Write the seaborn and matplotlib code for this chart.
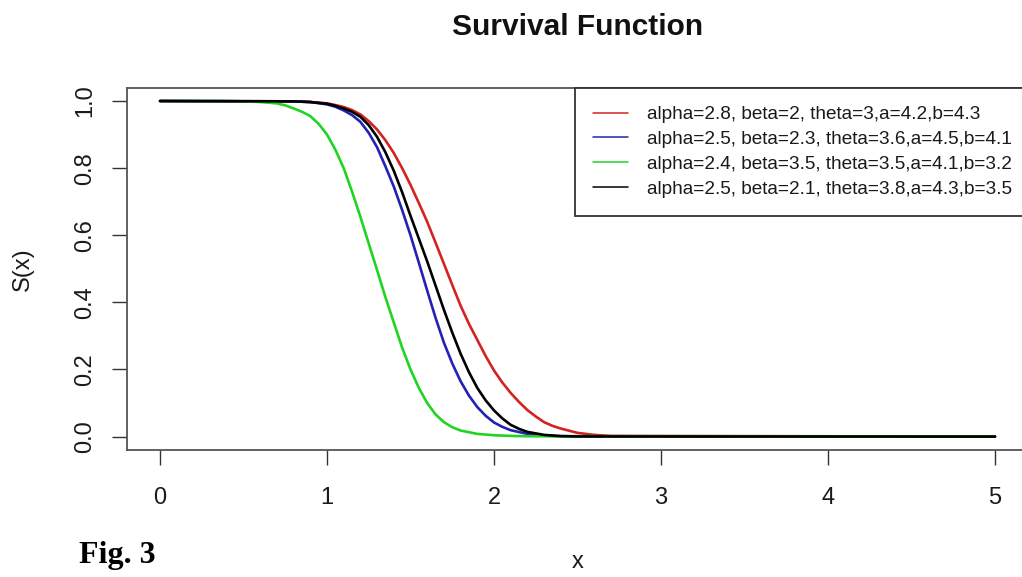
import matplotlib
matplotlib.use("Agg")
import matplotlib.pyplot as plt
from matplotlib.lines import Line2D
import seaborn as sns
import pandas as pd

# ---- data ----
series_labels = [
    "alpha=2.8, beta=2, theta=3,a=4.2,b=4.3",
    "alpha=2.5, beta=2.3, theta=3.6,a=4.5,b=4.1",
    "alpha=2.4, beta=3.5, theta=3.5,a=4.1,b=3.2",
    "alpha=2.5, beta=2.1, theta=3.8,a=4.3,b=3.5",
]
series_colors = ["#d42222", "#2222b4", "#22d422", "#000000"]

x_red = [0, 0.8, 0.9, 1.0, 1.05, 1.1, 1.15, 1.2, 1.25, 1.3, 1.35, 1.4, 1.45, 1.5, 1.55, 1.6,
         1.65, 1.7, 1.75, 1.8, 1.85, 1.9, 1.95, 2.0, 2.05, 2.1, 2.15, 2.2, 2.25, 2.3, 2.35,
         2.4, 2.5, 2.6, 2.7, 5]
s_red = [1, 0.999, 0.997, 0.993, 0.988, 0.982, 0.973, 0.96, 0.94, 0.915, 0.883, 0.845, 0.8,
         0.75, 0.696, 0.64, 0.578, 0.515, 0.452, 0.39, 0.336, 0.288, 0.24, 0.197, 0.161, 0.13,
         0.103, 0.079, 0.06, 0.043, 0.032, 0.024, 0.011, 0.005, 0.002, 0]

x_blue = [0, 0.8, 0.9, 1.0, 1.05, 1.1, 1.15, 1.2, 1.25, 1.3, 1.35, 1.4, 1.45, 1.5, 1.55, 1.6,
          1.65, 1.7, 1.75, 1.8, 1.85, 1.9, 1.95, 2.0, 2.05, 2.1, 2.2, 2.3, 2.4, 5]
s_blue = [1, 0.999, 0.997, 0.99, 0.983, 0.972, 0.958, 0.938, 0.905, 0.862, 0.805, 0.745, 0.675,
          0.6, 0.518, 0.435, 0.354, 0.28, 0.218, 0.165, 0.122, 0.088, 0.062, 0.042, 0.029,
          0.019, 0.008, 0.003, 0.001, 0]

x_green = [0, 0.4, 0.5, 0.6, 0.7, 0.75, 0.8, 0.85, 0.9, 0.95, 1.0, 1.05, 1.1, 1.15, 1.2, 1.25,
           1.3, 1.35, 1.4, 1.45, 1.5, 1.55, 1.6, 1.65, 1.7, 1.75, 1.8, 1.9, 2.0, 2.1, 2.2, 5]
s_green = [1, 1, 0.999, 0.997, 0.993, 0.987, 0.978, 0.968, 0.955, 0.932, 0.9, 0.855, 0.8, 0.73,
           0.655, 0.575, 0.496, 0.415, 0.34, 0.265, 0.2, 0.145, 0.1, 0.066, 0.043, 0.028,
           0.018, 0.008, 0.004, 0.002, 0.001, 0]

x_black = [0, 0.8, 0.9, 1.0, 1.05, 1.1, 1.15, 1.2, 1.25, 1.3, 1.35, 1.4, 1.45, 1.5, 1.55, 1.6,
           1.65, 1.7, 1.75, 1.8, 1.85, 1.9, 1.95, 2.0, 2.05, 2.1, 2.15, 2.2, 2.3, 2.4, 2.5, 5]
s_black = [1, 0.999, 0.997, 0.992, 0.986, 0.978, 0.968, 0.953, 0.928, 0.893, 0.847, 0.792,
           0.728, 0.658, 0.59, 0.522, 0.45, 0.378, 0.31, 0.247, 0.192, 0.145, 0.108, 0.078,
           0.054, 0.035, 0.023, 0.014, 0.005, 0.0015, 0.0004, 0]

x_ticks = [0, 1, 2, 3, 4, 5]
x_tick_labels = ["0", "1", "2", "3", "4", "5"]
y_ticks = [0.0, 0.2, 0.4, 0.6, 0.8, 1.0]
y_tick_labels = ["0.0", "0.2", "0.4", "0.6", "0.8", "1.0"]

# ---- build long table ----
frames = []
for lab, xs, ss in zip(series_labels,
                       [x_red, x_blue, x_green, x_black],
                       [s_red, s_blue, s_green, s_black]):
    frames.append(pd.DataFrame({"x": xs, "S": ss, "series": lab}))
df = pd.concat(frames, ignore_index=True)

sns.set_style("white")
plt.rcParams["font.family"] = ["Liberation Sans", "DejaVu Sans"]

W, H = 1022, 577
fig = plt.figure(figsize=(W / 100, H / 100), dpi=100)
left_px, right_px, top_px, bottom_px = 126.6, 1028.4, 87.6, 450.0
ax = fig.add_axes([left_px / W, 1 - bottom_px / H,
                   (right_px - left_px) / W, (bottom_px - top_px) / H])

sns.lineplot(data=df, x="x", y="S", hue="series", hue_order=series_labels,
             palette=dict(zip(series_labels, series_colors)),
             estimator=None, sort=False, linewidth=1.9, legend=False, ax=ax)

ax.set_xlim(-0.2, 5.2)
ax.set_ylim(-0.04, 1.04)
ax.set_xticks(x_ticks)
ax.set_xticklabels(x_tick_labels)
ax.set_yticks(y_ticks)
ax.set_yticklabels(y_tick_labels, rotation=90, va="center")

ax.tick_params(axis="both", direction="out", length=11, width=1.0,
               colors="#333333", labelcolor="#1a1a1a", labelsize=17,
               left=True, bottom=True)
ax.tick_params(axis="y", pad=11)
ax.tick_params(axis="x", pad=16)

for sp in ax.spines.values():
    sp.set_visible(True)
    sp.set_color("#555555")
    sp.set_linewidth(1.3)

ax.set_xlabel("x", fontsize=17, color="#1a1a1a")
ax.set_ylabel("S(x)", fontsize=17, color="#1a1a1a")
ax.xaxis.set_label_coords(0.5, -(562 - bottom_px) / (bottom_px - top_px))
ax.xaxis.label.set_va("center")
ax.yaxis.set_label_coords(-(left_px - 23) / (right_px - left_px), 0.5)
ax.yaxis.label.set_va("center")

handles = [Line2D([0], [0], color=c, lw=1.1) for c in series_colors]
leg = ax.legend(handles, series_labels, loc="upper left",
                bbox_to_anchor=((575 - left_px) / (right_px - left_px), 1.0),
                borderaxespad=0, frameon=True, fancybox=False,
                edgecolor="#333333", framealpha=1, fontsize=13.7,
                borderpad=0.96, labelspacing=0.40, handlelength=1.85,
                handletextpad=0.95)
leg.get_frame().set_linewidth(1.3)
for t in leg.get_texts():
    t.set_color("#1a1a1a")

fig.text(577.5 / W, 1 - 27 / H, "Survival Function", ha="center", va="center",
         fontsize=21.5, fontweight="bold", color="#111111")
fig.text(79 / W, 1 - 563 / H, "Fig. 3", ha="left", va="baseline",
         family=["Liberation Serif", "DejaVu Serif"], fontweight="bold",
         fontsize=23, color="#000000")

fig.savefig("out.png", dpi=100)
